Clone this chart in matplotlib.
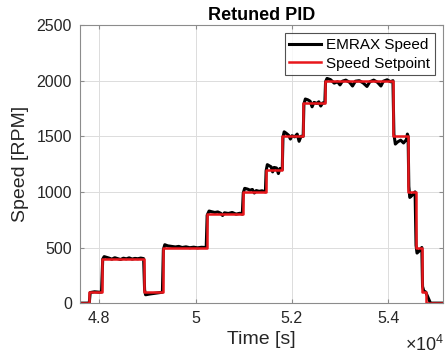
import numpy as np
import matplotlib
matplotlib.use("Agg")
import matplotlib.pyplot as plt
from matplotlib.ticker import FuncFormatter

plt.rcParams['font.family'] = ['Liberation Sans', 'DejaVu Sans']
plt.rcParams['mathtext.fontset'] = 'custom'
plt.rcParams['mathtext.rm'] = 'Liberation Sans'

# setpoint steps (time in s, speed in RPM)
sp_time = [47600, 47793, 48050, 48929, 49317, 50231, 50979, 51456, 51802,
           52238, 52688, 54107, 54419, 54571, 54709, 54786, 55140]
sp_speed = [0, 100, 400, 100, 500, 800, 1000, 1200, 1500, 1800, 2000,
            1500, 1000, 500, 100, 0, 0]

emrax_time = [
    47600, 47790, 47810, 47900, 48000, 48045,
    48070, 48100, 48150, 48200, 48260, 48320, 48380, 48440, 48500, 48560,
    48620, 48680, 48740, 48800, 48860, 48920,
    48940, 48960, 49050, 49150, 49250, 49310,
    49330, 49360, 49420, 49500, 49580, 49650, 49720, 49800, 49880, 49960,
    50040, 50120, 50220,
    50240, 50280, 50330, 50400, 50460, 50520, 50560, 50600, 50680, 50760,
    50840, 50920, 50970,
    50990, 51020, 51080, 51130, 51180, 51220, 51260, 51320, 51380, 51450,
    51465, 51490, 51530, 51570, 51600, 51630, 51680, 51720, 51750, 51800,
    51815, 51840, 51880, 51930, 51970, 52000, 52060, 52110, 52150, 52190,
    52235,
    52250, 52280, 52330, 52380, 52420, 52460, 52520, 52560, 52600, 52640,
    52685,
    52700, 52730, 52800, 52880, 52950, 53000, 53050, 53120, 53200, 53260,
    53320, 53400, 53480, 53560, 53620, 53700, 53780, 53850, 53900, 53980,
    54050, 54100,
    54120, 54150, 54200, 54260, 54320, 54380, 54400, 54415,
    54430, 54450, 54500, 54560,
    54580, 54600, 54650, 54700,
    54715, 54740, 54780,
    54800, 54850, 54880, 55140]
emrax_speed = [
    0, 0, 95, 102, 98, 100,
    395, 418, 412, 405, 395, 408, 400, 392, 404, 398,
    407, 396, 402, 399, 405, 400,
    120, 75, 82, 88, 93, 98,
    480, 525, 515, 510, 505, 510, 500, 506, 498, 503,
    497, 502, 500,
    790, 828, 822, 815, 820, 808, 788, 812, 806, 815,
    800, 808, 800,
    990, 1032, 1025, 1015, 1022, 990, 1012, 1005, 1010, 1000,
    1190, 1245, 1235, 1225, 1180, 1220, 1215, 1165, 1210, 1200,
    1490, 1540, 1528, 1510, 1475, 1505, 1495, 1520, 1455, 1500,
    1500,
    1790, 1835, 1828, 1815, 1765, 1805, 1795, 1810, 1772, 1800,
    1800,
    1990, 2020, 2010, 1978, 1990, 1962, 1995, 2005, 1985, 1952,
    1995, 2000, 1980, 1948, 1990, 2005, 1985, 1952, 1995, 2008,
    1990, 2000,
    1520, 1430, 1450, 1465, 1440, 1470, 1520, 1500,
    1050, 950, 970, 1000,
    520, 450, 470, 500,
    150, 110, 100,
    80, 30, 0, 0]

fig = plt.figure(figsize=(4.45, 3.6), dpi=100)
ax = fig.add_axes([0.18, 0.158, 0.8155, 0.7724])

ax.plot(emrax_time, emrax_speed, color="black", lw=2.2, label="EMRAX Speed")
ax.plot(sp_time, sp_speed, color="#e8161b", lw=1.8, drawstyle="steps-post",
        label="Speed Setpoint")

ax.set_xlim(47600, 55140)
ax.set_ylim(0, 2500)
ax.set_xticks([48000, 50000, 52000, 54000])
ax.set_yticks([0, 500, 1000, 1500, 2000, 2500])
ax.xaxis.set_major_formatter(FuncFormatter(lambda v, p: f"{v / 1e4:g}"))

ax.grid(True, color="#dcdcdc", lw=0.7)
ax.set_axisbelow(True)
for s in ax.spines.values():
    s.set_color("#8c8c8c")
    s.set_linewidth(0.8)
ax.tick_params(direction="in", length=3, colors="#8c8c8c", labelcolor="#262626",
               labelsize=11.5, top=True, right=True, pad=6)

ax.set_title("Retuned PID", fontsize=13, fontweight="bold", pad=4)
ax.set_xlabel("Time [s]", fontsize=14, color="#262626", labelpad=3)
ax.set_ylabel("Speed [RPM]", fontsize=14, color="#262626", labelpad=5)
fig.text(0.998, 0.015, r"$\times10^4$", ha="right", va="bottom",
         fontsize=13, color="#262626")

leg = ax.legend(loc="upper right", fontsize=11, frameon=True, fancybox=False,
                borderpad=0.3, handlelength=2.1, handletextpad=0.3,
                labelspacing=0.3, borderaxespad=0.55)
leg.get_frame().set_edgecolor("#262626")
leg.get_frame().set_linewidth(0.8)

fig.savefig("out.png", dpi=100)
